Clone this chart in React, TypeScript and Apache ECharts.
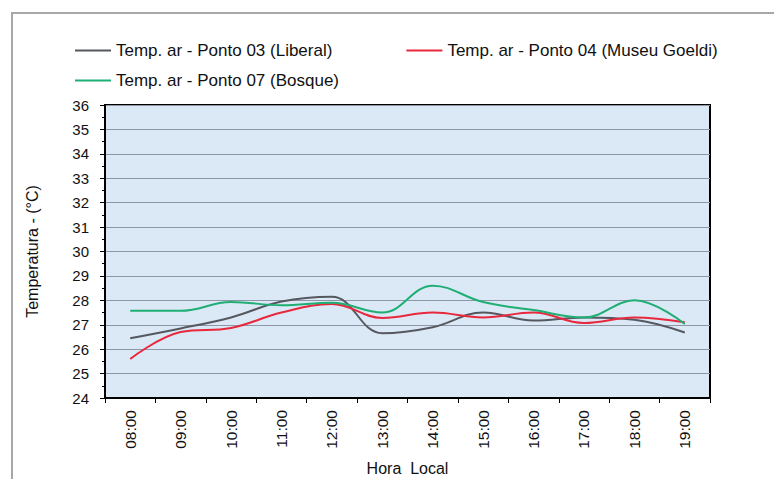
import React, { useEffect, useRef } from "react";
import * as echarts from "echarts";

const categories = ["08:00", "09:00", "10:00", "11:00", "12:00", "13:00", "14:00", "15:00", "16:00", "17:00", "18:00", "19:00"];
const liberal = [26.45, 26.85, 27.3, 27.95, 28.15, 26.65, 26.9, 27.5, 27.17, 27.3, 27.2, 26.68];
const goeldi = [25.6, 26.7, 26.87, 27.5, 27.85, 27.28, 27.5, 27.3, 27.5, 27.07, 27.3, 27.1];
const bosque = [27.57, 27.57, 27.93, 27.8, 27.9, 27.5, 28.6, 27.93, 27.6, 27.3, 28.0, 27.03];
const seriesNames = [
  "Temp. ar - Ponto 03 (Liberal)",
  "Temp. ar - Ponto 04 (Museu Goeldi)",
  "Temp. ar - Ponto 07 (Bosque)",
];
const colors = ["#55585f", "#e8283c", "#1fae74"];

export default function App() {
  const ref = useRef<HTMLDivElement>(null);
  useEffect(() => {
    const chart = echarts.init(ref.current!, undefined, { renderer: "svg" });
    const font = "Liberation Sans, Arial, sans-serif";
    const legendText = { fontFamily: font, fontSize: 17, color: "#111" };
    chart.setOption({
      animation: false,
      backgroundColor: "#fff",
      graphic: [
        {
          type: "rect",
          shape: { x: 12, y: 13, width: 800, height: 500 },
          style: { fill: "none", stroke: "#a8a8a8", lineWidth: 2 },
          z: -1,
        },
      ],
      legend: [
        {
          left: 70,
          top: 37,
          data: [seriesNames[0], seriesNames[1]],
          icon: "rect",
          itemWidth: 36,
          itemHeight: 2,
          itemGap: 74,
          textStyle: legendText,
        },
        {
          left: 70,
          top: 67,
          data: [seriesNames[2]],
          icon: "rect",
          itemWidth: 36,
          itemHeight: 2,
          textStyle: legendText,
        },
      ],
      grid: {
        left: 105,
        right: 64,
        top: 105,
        bottom: 81,
        outerBoundsMode: "none",
        containLabel: false,
        backgroundColor: "#dbe8f6",
        show: true,
        borderWidth: 2,
        borderColor: "#000",
      },
      xAxis: {
        type: "category",
        data: categories,
        boundaryGap: true,
        name: "Hora  Local",
        nameLocation: "middle",
        nameGap: 62,
        nameTextStyle: { fontFamily: font, fontSize: 16, color: "#111" },
        axisLine: { show: true, lineStyle: { color: "#000", width: 2 } },
        axisTick: { show: true, inside: false, length: 5, lineStyle: { color: "#000" }, interval: 0 },
        axisLabel: { rotate: 90, fontFamily: font, fontSize: 15.5, color: "#111", margin: 12, interval: 0 },
        splitLine: { show: false },
      },
      yAxis: {
        type: "value",
        min: 24,
        max: 36,
        interval: 1,
        name: "Temperatura - (°C)",
        nameLocation: "middle",
        nameGap: 65,
        nameTextStyle: { fontFamily: font, fontSize: 16, color: "#111" },
        axisLine: { show: true, lineStyle: { color: "#000", width: 2 } },
        axisTick: { show: true, length: 5, lineStyle: { color: "#000" } },
        minorTick: { show: true, splitNumber: 2, length: 3, lineStyle: { color: "#000" } },
        axisLabel: { fontFamily: font, fontSize: 15, color: "#111", margin: 16 },
        splitLine: { show: true, lineStyle: { color: "#8f97a6", width: 1 } },
      },
      series: [
        { name: seriesNames[0], type: "line", data: liberal, smooth: 0.4, showSymbol: false, lineStyle: { width: 2, color: colors[0] }, itemStyle: { color: colors[0] } },
        { name: seriesNames[1], type: "line", data: goeldi, smooth: 0.4, showSymbol: false, lineStyle: { width: 2, color: colors[1] }, itemStyle: { color: colors[1] } },
        { name: seriesNames[2], type: "line", data: bosque, smooth: 0.4, showSymbol: false, lineStyle: { width: 2, color: colors[2] }, itemStyle: { color: colors[2] } },
      ],
    });
    return () => chart.dispose();
  }, []);
  return <div ref={ref} style={{ width: 774, height: 479, position: "absolute", left: 0, top: 0 }} />;
}
